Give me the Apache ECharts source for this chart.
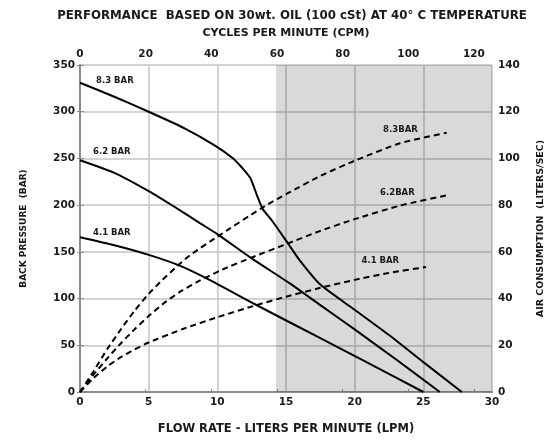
<!DOCTYPE html>
<html>
<head>
<meta charset="utf-8">
<script src="https://cdn.jsdelivr.net/npm/echarts@6/dist/echarts.min.js"></script>
<style>
  html, body { margin: 0; padding: 0; background: #fff; }
  #chart { width: 554px; height: 440px; }
</style>
</head>
<body>
<div id="chart"></div>
<script>
// back pressure curves (flow LPM, bar)
const press83 = [[0,331],[2.5,316],[5,300],[7.65,282],[9.8,264],[11.15,250],[11.8,240],[12.4,229],[12.9,210],[13.3,196],[14,183],[15.1,160],[16,141],[17.5,115],[20,88],[22.5,61],[25,32],[27.8,0]];
const press62 = [[0,248],[2.5,234.5],[5,215],[6.9,198],[8.7,181],[10,169],[12.5,143],[15.3,116],[17.5,93],[20,67],[23,35],[26.2,0]];
const press41 = [[0,165.6],[2.5,157],[4.95,147],[7.3,135],[9.5,119.5],[12.6,95],[17.5,57.6],[21,31],[25,0]];

// air consumption curves (flow LPM, liters/sec)
const air83 = [[0,0],[1,9],[2,18.5],[3,27],[4,35],[5,42],[6,48],[7,53.5],[8,58.5],[10,66.5],[13.3,79],[15.1,85],[17.5,92.5],[20,99],[23.3,106.5],[26.7,111]];
const air62 = [[0,0],[1,7.5],[2,14.5],[3,21],[4,27],[5,32.5],[6,37.5],[7.3,43],[8.5,47],[10.2,52],[12.6,57.8],[15.1,63.5],[17.5,69],[20,74],[23.3,79.8],[26.7,84.2]];
const air41 = [[0,0],[1,6],[2,11],[3,15],[4,18.3],[5,21.2],[7.5,27],[10,32],[12.9,37.3],[15,40.8],[17.5,44.6],[20,48],[22.5,51],[25.2,53.5]];

// curve labels: [text, flow, back pressure]
const curveLabels = [
    ['8.3 BAR', 1.17, 333],
    ['6.2 BAR', 0.95, 257],
    ['4.1 BAR', 0.95, 170],
    ['8.3BAR', 22.07, 281],
    ['6.2BAR', 21.85, 213],
    ['4.1 BAR', 20.5, 140.5]
];

const shadeStart = 14.27;

const font = '"DejaVu Sans", sans-serif';
const txt = '#1a1a1a';

let chart = echarts.init(document.getElementById('chart'), null, {renderer: 'canvas'});

const solid = (data) => ({
    type: 'line',
    xAxisIndex: 0,
    yAxisIndex: 0,
    data: data,
    symbol: 'none',
    smooth: 0.2,
    lineStyle: { color: '#000', width: 2 },
    silent: true,
    z: 3
});

const dashed = (data) => ({
    type: 'line',
    xAxisIndex: 0,
    yAxisIndex: 1,
    data: data,
    symbol: 'none',
    smooth: 0.2,
    lineStyle: { color: '#000', width: 2, type: [6, 4] },
    silent: true,
    z: 3
});

const axisLine = { show: true, lineStyle: { color: '#8c8c8c', width: 2 } };
const tickLabel = { color: txt, fontFamily: font, fontWeight: 'bold', fontSize: 10.5 };

let option = {
    animation: false,
    title: {
        text: 'PERFORMANCE  BASED ON 30wt. OIL (100 cSt) AT 40° C TEMPERATURE',
        left: 287,
        textAlign: 'center',
        top: 5,
        textStyle: { color: txt, fontFamily: font, fontWeight: 'bold', fontSize: 11.8 }
    },
    grid: { left: 80, right: 62, top: 65, bottom: 41 },
    xAxis: [
        {
            type: 'value', position: 'bottom',
            min: 0, max: 30, interval: 5,
            name: 'FLOW RATE - LITERS PER MINUTE (LPM)',
            nameLocation: 'middle', nameGap: 31,
            nameTextStyle: { color: txt, fontFamily: font, fontWeight: 'bold', fontSize: 11.5 },
            axisLine: axisLine,
            axisTick: { show: false },
            axisLabel: Object.assign({ margin: 5 }, tickLabel),
            splitLine: { show: true, lineStyle: { color: '#c4c4c4', width: 1.5 } }
        },
        {
            type: 'value', position: 'top',
            min: 0, max: 125.5, interval: 20,
            name: 'CYCLES PER MINUTE (CPM)',
            nameLocation: 'middle', nameGap: 26,
            nameTextStyle: { color: txt, fontFamily: font, fontWeight: 'bold', fontSize: 11 },
            axisLine: axisLine,
            axisTick: { show: true, length: 3, lineStyle: { color: '#8c8c8c' } },
            axisLabel: Object.assign({ margin: 5 }, tickLabel),
            splitLine: { show: false }
        }
    ],
    yAxis: [
        {
            type: 'value', position: 'left',
            min: 0, max: 350, interval: 50,
            name: 'BACK PRESSURE  (BAR)',
            nameLocation: 'middle', nameGap: 52, nameRotate: 90,
            nameTextStyle: { color: txt, fontFamily: font, fontWeight: 'bold', fontSize: 9 },
            axisLine: axisLine,
            axisTick: { show: true, length: 3, lineStyle: { color: '#8c8c8c' } },
            axisLabel: Object.assign({ margin: 5 }, tickLabel),
            splitLine: { show: true, lineStyle: { color: '#c4c4c4', width: 1.5 } }
        },
        {
            type: 'value', position: 'right',
            min: 0, max: 140, interval: 20,
            name: 'AIR CONSUMPTION  (LITERS/SEC)',
            nameLocation: 'middle', nameGap: 44, nameRotate: 90,
            nameTextStyle: { color: txt, fontFamily: font, fontWeight: 'bold', fontSize: 9.5 },
            axisLine: axisLine,
            axisTick: { show: true, length: 4, lineStyle: { color: '#8c8c8c' } },
            axisLabel: Object.assign({ margin: 6 }, tickLabel),
            splitLine: { show: false }
        }
    ],
    series: [
        {
            type: 'line',
            xAxisIndex: 0,
            yAxisIndex: 0,
            data: [],
            silent: true,
            z: 2,
            markArea: {
                silent: true,
                itemStyle: { color: 'rgba(0,0,0,0.15)' },
                data: [[{ xAxis: shadeStart }, { xAxis: 30 }]]
            }
        },
        solid(press83),
        solid(press62),
        solid(press41),
        dashed(air83),
        dashed(air62),
        dashed(air41)
    ]
};

chart.setOption(option);

// curve labels placed through the chart's own scales
let texts = curveLabels.map(([t, x, y]) => {
    let p = chart.convertToPixel({ xAxisIndex: 0, yAxisIndex: 0 }, [x, y]);
    return {
        type: 'text',
        x: p[0],
        y: p[1],
        z: 10,
        style: {
            text: t,
            fill: txt,
            font: 'bold 8.5px ' + font,
            textAlign: 'left',
            textVerticalAlign: 'middle'
        }
    };
});
chart.setOption({ graphic: texts });
</script>
</body>
</html>
